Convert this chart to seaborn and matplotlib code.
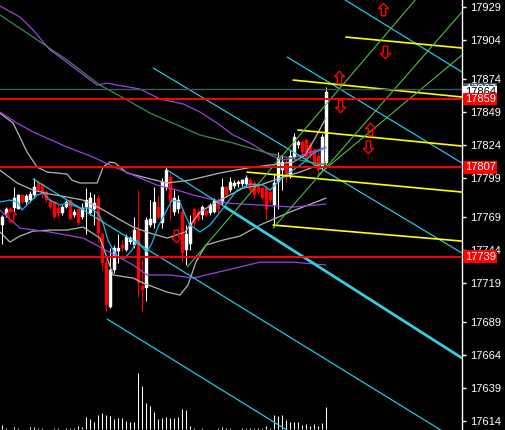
import numpy as np
import matplotlib
matplotlib.use("Agg")
import matplotlib.pyplot as plt
import matplotlib.transforms as mtransforms
from matplotlib.path import Path
import seaborn as sns

# --- Dados (velas de 0 a 81) ---

opens = [17763, 17771, 17775, 17776, 17775, 17786, 17781, 17782, 17786, 17795,
         17794, 17788, 17782, 17781, 17776, 17772, 17777, 17782, 17771, 17775,
         17769, 17777, 17772, 17775, 17784, 17756, 17734, 17701, 17729, 17743,
         17748, 17744, 17750, 17748, 17759, 17717, 17715, 17763, 17765, 17777,
         17765, 17792, 17800, 17773, 17775, 17773, 17744, 17749, 17775, 17773,
         17771, 17774, 17772, 17773, 17782, 17780, 17792, 17790, 17793, 17794,
         17794, 17794, 17797, 17795, 17793, 17791, 17791, 17788, 17778, 17796,
         17805, 17809, 17801, 17815, 17824, 17826, 17828, 17824, 17820, 17816,
         17807, 17810]
closes = [17769, 17775, 17773, 17784, 17786, 17781, 17785, 17787, 17792, 17790,
          17787, 17782, 17777, 17769, 17772, 17777, 17781, 17768, 17773, 17765,
          17776, 17782, 17784, 17780, 17757, 17734, 17702, 17729, 17746, 17746,
          17746, 17754, 17753, 17759, 17719, 17714, 17767, 17768, 17781, 17769,
          17796, 17805, 17781, 17784, 17782, 17742, 17756, 17765, 17765, 17768,
          17777, 17771, 17778, 17782, 17775, 17792, 17786, 17796, 17795, 17796,
          17797, 17799, 17790, 17786, 17788, 17784, 17775, 17782, 17795, 17814,
          17811, 17800, 17816, 17830, 17826, 17819, 17813, 17816, 17809, 17805,
          17830, 17864]
highs = [17771, 17777, 17777, 17792, 17787, 17787, 17787, 17789, 17799, 17797,
         17795, 17790, 17784, 17781, 17778, 17778, 17782, 17783, 17775, 17776,
         17780, 17791, 17788, 17787, 17786, 17757, 17737, 17746, 17748, 17756,
         17752, 17756, 17755, 17769, 17790, 17737, 17769, 17782, 17792, 17786,
         17799, 17807, 17803, 17790, 17786, 17776, 17763, 17771, 17776, 17775,
         17778, 17775, 17780, 17784, 17784, 17799, 17793, 17800, 17797, 17797,
         17798, 17801, 17799, 17797, 17794, 17793, 17793, 17790, 17803, 17819,
         17816, 17813, 17820, 17833, 17828, 17828, 17829, 17826, 17822, 17819,
         17832, 17868]
lows = [17749, 17769, 17772, 17773, 17775, 17779, 17779, 17781, 17784, 17788,
        17784, 17781, 17775, 17768, 17769, 17771, 17776, 17767, 17769, 17763,
        17768, 17756, 17771, 17763, 17750, 17729, 17698, 17700, 17727, 17734,
        17743, 17743, 17749, 17746, 17708, 17698, 17705, 17762, 17761, 17768,
        17761, 17790, 17767, 17771, 17772, 17735, 17733, 17744, 17762, 17767,
        17768, 17770, 17771, 17772, 17773, 17778, 17784, 17788, 17791, 17792,
        17793, 17793, 17788, 17784, 17787, 17782, 17768, 17780, 17762, 17775,
        17790, 17796, 17799, 17813, 17822, 17816, 17810, 17814, 17807, 17803,
        17805, 17809]
volumes = [4, 1, 0, 2, 1, 0, 0, 2, 2, 1,
           1, 0, 0, 1, 1, 0, 1, 1, 1, 3,
           2, 12, 10, 7, 14, 16, 14, 13, 10, 11,
           11, 8, 7, 7, 56, 43, 26, 23, 17, 10,
           11, 12, 11, 11, 12, 20, 19, 3, 1, 0,
           1, 0, 0, 0, 1, 2, 1, 1, 0, 0,
           1, 1, 1, 1, 1, 1, 3, 1, 14, 13,
           14, 9, 7, 7, 7, 4, 5, 3, 5, 3,
           6, 22]

# médias móveis (posição da vela, preço)
ma_fast_x = [-0.6, 1.9, 3.9, 4.9, 6.9, 8.7, 10.2, 11.9, 14.4, 16.2, 19.4, 21.9, 23.9, 25.2,
             26.4, 27.7, 28.9, 30.7, 32.4, 33.7, 34.9, 36.2, 37.4, 38.9, 40.7, 42.4, 44.4,
             45.7, 46.9, 49.4, 51.9, 55.2, 58.7, 61.9, 65.2, 66.9, 69.4, 71.9, 75.2, 77.7, 80.9]
ma_fast_y = [17780.6, 17782.1, 17780.6, 17774.5, 17780.6, 17785.9, 17787.4, 17782.1, 17778.3,
             17779.8, 17776.0, 17776.0, 17772.2, 17764.6, 17751.7, 17744.1, 17738.7, 17738.0,
             17744.1, 17751.7, 17746.4, 17742.6, 17749.4, 17761.6, 17772.2, 17782.1, 17780.6,
             17770.7, 17763.1, 17757.8, 17763.1, 17776.0, 17789.7, 17794.3, 17793.5, 17789.7,
             17797.3, 17803.4, 17810.3, 17817.9, 17821.7]

purple_a_x = [-0.6, 4.4, 7.7, 11.9, 13.7, 18.7, 23.7, 26.2, 28.7, 34.4, 39.4, 45.2, 49.4,
              53.7, 57.7, 61.9, 66.9, 70.2, 72.7, 74.9, 78.7, 80.9]
purple_a_y = [17929.7, 17921.4, 17911.5, 17896.3, 17892.5, 17881.0, 17869.6, 17871.1, 17869.6,
              17866.6, 17859.0, 17855.2, 17849.1, 17840.7, 17831.6, 17825.5, 17816.4, 17812.6,
              17814.1, 17816.4, 17820.2, 17822.4]

green_ma_x = [-0.6, 7.7, 16.2, 24.4, 31.2, 36.9, 43.7, 49.4, 57.7, 66.2, 71.9, 76.9, 80.9]
green_ma_y = [17922.9, 17906.1, 17888.6, 17869.6, 17858.2, 17848.3, 17839.2, 17831.6,
              17825.5, 17817.9, 17814.1, 17811.0, 17808.8]

purple_b_x = [-0.6, 3.7, 7.7, 16.2, 22.7, 26.9, 32.7, 38.7, 43.7, 47.7, 56.2, 64.4, 72.7, 80.9]
purple_b_y = [17849.1, 17840.7, 17833.9, 17822.4, 17814.8, 17808.8, 17801.1, 17793.5,
              17789.7, 17785.9, 17779.8, 17778.3, 17776.8, 17779.1]

purple_c_x = [-0.6, 4.4, 11.9, 20.2, 24.4, 32.7, 36.2, 41.9, 47.7, 56.2, 64.4, 72.7, 80.9]
purple_c_y = [17774.5, 17760.8, 17757.8, 17753.2, 17746.4, 17732.7, 17725.1, 17725.1,
              17722.8, 17728.9, 17734.9, 17734.9, 17732.7]

# bandas de Bollinger
bb_up_x = [-0.6, 2.7, 6.2, 8.7, 11.2, 16.2, 17.4, 19.4, 23.7, 25.2, 26.9, 28.2, 31.2, 35.2,
           41.2, 46.9, 54.4, 61.2, 66.9, 72.7, 75.7, 78.2, 80.9]
bb_up_y = [17848.3, 17840.7, 17818.6, 17807.2, 17803.4, 17801.9, 17797.3, 17795.1, 17795.1,
           17807.2, 17811.0, 17810.3, 17802.7, 17799.6, 17795.1, 17797.3, 17802.7, 17806.5,
           17808.8, 17811.0, 17816.4, 17829.3, 17844.5]
bb_mid_x = [-0.6, 3.7, 7.7, 11.9, 16.2, 20.2, 24.4, 28.7, 32.7, 36.9, 41.2, 45.7, 49.4, 54.4,
            60.2, 64.4, 70.2, 74.4, 80.9]
bb_mid_y = [17804.9, 17795.1, 17789.7, 17786.7, 17784.4, 17782.1, 17776.0, 17768.4, 17761.6,
            17757.0, 17753.2, 17757.8, 17773.0, 17782.1, 17791.2, 17793.5, 17799.6, 17803.4,
            17811.0]
bb_low_x = [-0.6, 1.9, 4.4, 7.7, 11.9, 16.2, 20.2, 24.4, 26.2, 27.7, 32.7, 35.2, 41.2, 44.4,
            46.4, 48.4, 50.9, 55.2, 59.4, 64.4, 71.9, 80.9]
bb_low_y = [17757.8, 17750.2, 17754.7, 17758.5, 17759.3, 17759.3, 17761.6, 17753.2, 17738.0,
            17725.1, 17722.8, 17719.0, 17712.1, 17709.8, 17717.4, 17735.0, 17747.9, 17751.7,
            17754.7, 17763.1, 17773.0, 17783.6]

# linhas de tendência (início e fim: vela, preço)
cyan_x0 = [85.7, 71.2, 37.7, 7.7, 26.2, 41.2]
cyan_p0 = [17934.3, 17890.9, 17882.6, 17798.1, 17691.6, 17805.0]
cyan_x1 = [114.9, 114.9, 114.9, 114.9, 74.4, 55.7]
cyan_p1 = [17879.5, 17810.3, 17741.8, 17597.2, 17601.0, 17776.8]
cyan_thick = [(55.7, 17776.8), (114.9, 17661.9)]

yellow_x0 = [72.7, 85.9, 73.9, 61.2, 67.7]
yellow_p0 = [17873.4, 17906.1, 17835.4, 17803.4, 17763.1]
yellow_x1 = [114.9, 114.9, 114.9, 114.9, 114.9]
yellow_p1 = [17860.5, 17897.8, 17823.2, 17788.2, 17750.9]

green_x0 = [46.2, 67.7, 78.9]
green_p0 = [17731.1, 17760.8, 17801.1]
green_x1 = [103.2, 114.9, 114.9]
green_p1 = [17934.3, 17925.2, 17892.4]

# linhas horizontais
red_levels = [17859, 17807, 17739]
ask_level = 17866.5
bid_price = 17864

# setas
arrow_up_x = [2.2, 84.2, 91.9, 95.2]
arrow_up_p = [17770.7, 17875.7, 17836.1, 17927.5]
arrow_dn_x = [43.4, 84.4, 91.4, 95.7]
arrow_dn_p = [17754.7, 17853.6, 17822.4, 17894.7]

price_ticks = [17929, 17904, 17874, 17849, 17824, 17799, 17769, 17744,
               17719, 17689, 17664, 17639, 17614]

# --- Plot ---

sns.set_style("dark", {"axes.facecolor": "black", "figure.facecolor": "black"})
plt.rcParams['font.family'] = ['Liberation Sans', 'DejaVu Sans']

fig = plt.figure(figsize=(5.05, 4.30), dpi=100)
rect = [0, 0, 462 / 505, 1]
axv = fig.add_axes(rect)
ax = fig.add_axes(rect, sharex=axv)
ax.patch.set_visible(False)
axv.set_facecolor('black')

x_min, x_max = -0.575, 114.9
ax.set_xlim(x_min, x_max)
ax.set_ylim(17607.2, 17934.3)

# volume
idx = np.arange(len(opens))
axv.vlines(idx, 0, volumes, colors='white', linewidth=0.75)
axv.set_ylim(-1, 429)
axv.axis('off')

# velas
o = np.array(opens, dtype=float)
c = np.array(closes, dtype=float)
up = c >= o
cores = np.where(up, 'white', 'red')
ax.vlines(idx, lows, highs, colors=cores, linewidth=0.75, zorder=3)
corpo = np.maximum(np.abs(c - o), 0.8)
ax.bar(idx, corpo, bottom=np.minimum(o, c), width=0.75, color=cores,
       edgecolor=cores, linewidth=0.3, zorder=3)

# indicadores
for xs, ys, cor in [(bb_up_x, bb_up_y, '#b4b4b4'), (bb_mid_x, bb_mid_y, '#b4b4b4'),
                    (bb_low_x, bb_low_y, '#b4b4b4'), (purple_a_x, purple_a_y, '#a040e0'),
                    (purple_b_x, purple_b_y, '#a040e0'), (purple_c_x, purple_c_y, '#a040e0'),
                    (green_ma_x, green_ma_y, '#3c8c50'), (ma_fast_x, ma_fast_y, '#18b4f0')]:
    sns.lineplot(x=xs, y=ys, ax=ax, color=cor, linewidth=0.9, sort=False,
                 estimator=None, zorder=4)

# linhas de tendência
for x0, p0, x1, p1 in zip(cyan_x0, cyan_p0, cyan_x1, cyan_p1):
    ax.plot([x0, x1], [p0, p1], color='#20c8e0', linewidth=0.9, zorder=4)
ax.plot([cyan_thick[0][0], cyan_thick[1][0]], [cyan_thick[0][1], cyan_thick[1][1]],
        color='#30d0e0', linewidth=2.0, zorder=4)
for x0, p0, x1, p1 in zip(yellow_x0, yellow_p0, yellow_x1, yellow_p1):
    ax.plot([x0, x1], [p0, p1], color='#ffff00', linewidth=1.2, zorder=4)
for x0, p0, x1, p1 in zip(green_x0, green_p0, green_x1, green_p1):
    ax.plot([x0, x1], [p0, p1], color='#50c040', linewidth=0.8, zorder=4)

for nivel in red_levels:
    ax.axhline(nivel, color='red', linewidth=1.4, zorder=4)
ax.axhline(ask_level, color='#3c5a5a', linewidth=1.0, zorder=4)

# setas vazadas
seta_up = Path([(0, 1), (-0.8, 0.15), (-0.35, 0.15), (-0.35, -1), (0.35, -1),
                (0.35, 0.15), (0.8, 0.15), (0, 1)],
               [Path.MOVETO] + [Path.LINETO] * 6 + [Path.CLOSEPOLY])
seta_dn = Path([(x, -y) for x, y in seta_up.vertices], seta_up.codes)
ax.plot(arrow_up_x, arrow_up_p, linestyle='none', marker=seta_up, markersize=9,
        markerfacecolor='none', markeredgecolor='red', markeredgewidth=1.0, zorder=5)
ax.plot(arrow_dn_x, arrow_dn_p, linestyle='none', marker=seta_dn, markersize=9,
        markerfacecolor='none', markeredgecolor='red', markeredgewidth=1.0, zorder=5)

# eixo de preços à direita
for lado in ['left', 'top', 'bottom']:
    ax.spines[lado].set_visible(False)
ax.spines['right'].set_color('white')
ax.spines['right'].set_linewidth(1.0)
ax.yaxis.tick_right()
ax.set_yticks(price_ticks)
ax.set_yticklabels([str(t) for t in price_ticks])
ax.tick_params(axis='y', colors='white', length=3, width=1, labelsize=8, pad=3,
               direction='out', right=True, left=False)
ax.tick_params(axis='x', bottom=False, labelbottom=False)
ax.grid(False)
ax.set_xlabel('')
ax.set_ylabel('')

trans = mtransforms.blended_transform_factory(ax.transAxes, ax.transData)
etiquetas = [(ask_level, '17867', '#3c5a5a', 'white'),
             (bid_price, str(bid_price), 'white', 'black')]
etiquetas += [(n, str(n), 'red', 'white') for n in red_levels]
for i, (nivel, txt, fundo, cor) in enumerate(etiquetas):
    ax.text(1.006, nivel, txt, transform=trans, fontsize=8, color=cor, ha='left',
            va='center', clip_on=False, zorder=10 + i,
            bbox=dict(boxstyle='square,pad=0.12', facecolor=fundo, edgecolor='none'))

fig.savefig('out.png', dpi=100, facecolor='black')
